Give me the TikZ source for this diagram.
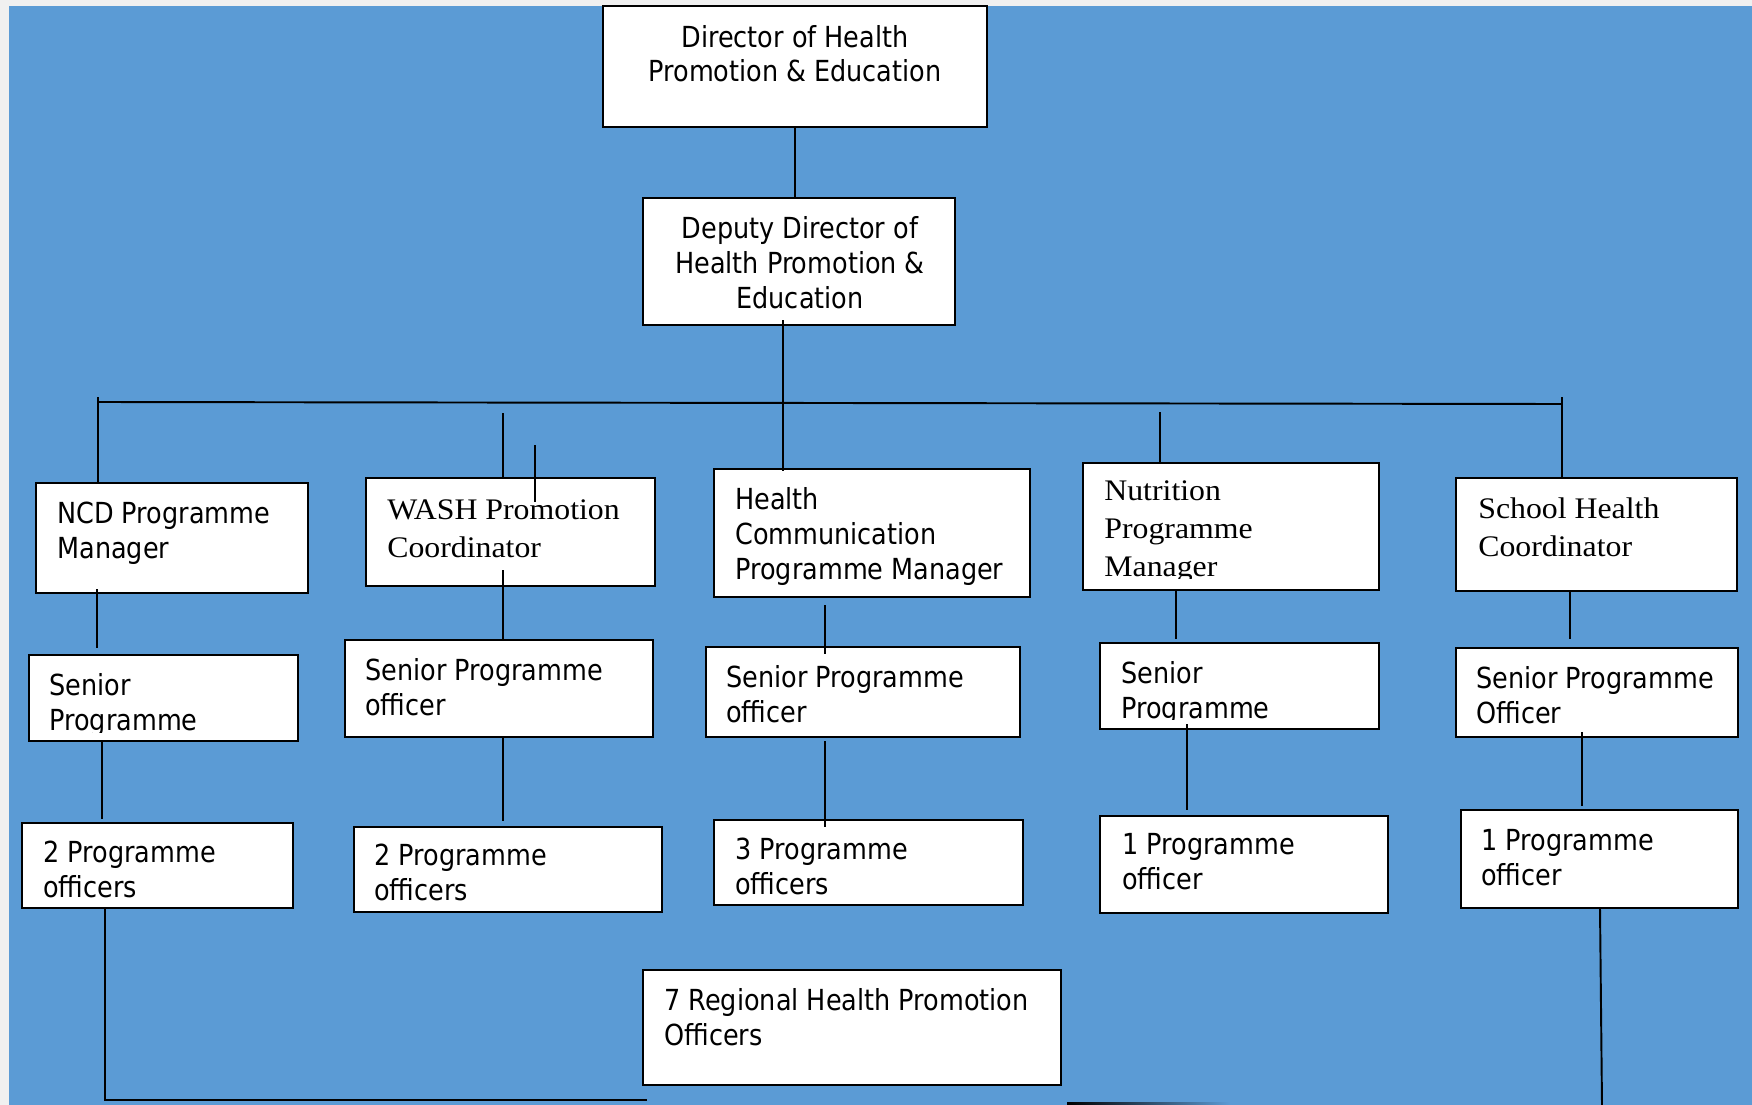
\documentclass[tikz,border=0pt]{standalone}
\usepackage{fontspec}
\setmainfont{DejaVu Sans}[FakeStretch=0.88]
\newfontfamily\serifrm{Liberation Serif}[FakeStretch=1.065]
\usepackage{tikz}
\usetikzlibrary{fit}
\definecolor{chartblue}{HTML}{5B9BD5}
\definecolor{pagegray}{HTML}{F0F0F0}

\begin{document}
\begin{tikzpicture}[x=0.02cm, y=-0.02cm,
    post/.style={draw=black, line width=1.2pt, fill=white, inner sep=0pt},
    lbl/.style={inner sep=0pt, anchor=base west, align=left, font=\fontsize{16.5}{19.9}\selectfont},
    midlbl/.style={lbl, anchor=base, align=center},
    rmlbl/.style={lbl, font=\serifrm\fontsize{17}{21.6}\selectfont},
    link/.style={line width=1.1pt}]
  \useasboundingbox (0,0) rectangle (1752,1105);
  \fill[pagegray] (0,0) rectangle (1752,1105);
  \fill[chartblue] (9,6) rectangle (1752,1105);

  \node[post, fit={(603,6) (987,127)}] (dir) {};
  \node[post, fit={(643,198) (955,325)}] (dep) {};
  \node[post, fit={(36,483) (308,593)}] (ncd) {};
  \node[post, fit={(366,478) (655,586)}] (wash) {};
  \node[post, fit={(714,469) (1030,597)}] (hc) {};
  \node[post, fit={(1083,463) (1379,590)}] (nut) {};
  \node[post, fit={(1456,478) (1737,591)}] (sch) {};
  \node[post, fit={(29,655) (298,741)}] (ncds) {};
  \node[post, fit={(345,640) (653,737)}] (washs) {};
  \node[post, fit={(706,647) (1020,737)}] (hcs) {};
  \node[post, fit={(1100,643) (1379,729)}] (nuts) {};
  \node[post, fit={(1456,648) (1738,737)}] (schs) {};
  \node[post, fit={(22,823) (293,908)}] (ncd2) {};
  \node[post, fit={(354,827) (662,912)}] (wash2) {};
  \node[post, fit={(714,820) (1023,905)}] (hc3) {};
  \node[post, fit={(1100,816) (1388,913)}] (nut1) {};
  \node[post, fit={(1461,810) (1738,908)}] (sch1) {};
  \node[post, fit={(643,970) (1061,1085)}] (reg) {};

  \node[midlbl] (dir-t) at (795,82) {Director of Health\\Promotion \& Education};
  \node[midlbl] (dep-t) at (800,308) {Deputy Director of\\Health Promotion \&\\Education};
  \node[lbl] (ncd-t) at (57,558) {NCD Programme\\Manager};
  \node[rmlbl] (wash-t) at (387,557) {WASH Promotion\\Coordinator};
  \node[lbl] (hc-t) at (735,579) {Health\\Communication\\Programme Manager};
  \begin{scope}
    \clip (1083,463) rectangle (1379,578);
    \node[rmlbl] (nut-t) at (1104,576) {Nutrition\\Programme\\Manager};
  \end{scope}
  \node[rmlbl] (sch-t) at (1478,556) {School Health\\Coordinator};
  \begin{scope}
    \clip (29,655) rectangle (298,732);
    \node[lbl] (ncds-t) at (49,730) {Senior\\Programme};
  \end{scope}
  \node[lbl] (washs-t) at (365,715) {Senior Programme\\officer};
  \node[lbl] (hcs-t) at (726,722) {Senior Programme\\officer};
  \begin{scope}
    \clip (1100,643) rectangle (1379,719);
    \node[lbl] (nuts-t) at (1121,718) {Senior\\Programme};
  \end{scope}
  \node[lbl] (schs-t) at (1476,723) {Senior Programme\\Officer};
  \node[lbl] (ncd2-t) at (43,897) {2 Programme\\officers};
  \begin{scope}
    \clip (354,827) rectangle (662,902);
    \node[lbl] (wash2-t) at (374,900) {2 Programme\\officers};
  \end{scope}
  \begin{scope}
    \clip (714,820) rectangle (1023,895);
    \node[lbl] (hc3-t) at (735,894) {3 Programme\\officers};
  \end{scope}
  \node[lbl] (nut1-t) at (1122,889) {1 Programme\\officer};
  \node[lbl] (sch1-t) at (1481,885) {1 Programme\\officer};
  \node[lbl] (reg-t) at (664,1045) {7 Regional Health Promotion\\Officers};

  \draw[link] (dir.south) -- (dir.south |- dep.north);
  \coordinate (dep-o) at (783,320);
  \draw[link] (dep-o) -- (dep-o |- hc.north) -- ++(0,3);
  \coordinate (bus-w) at (98,402);
  \coordinate (bus-e) at (1562,404);
  \draw[link] (bus-w) -- (bus-e);
  \draw[link] (bus-w) ++(0,-5) -- (bus-w |- ncd.north);
  \draw[link] (bus-e) ++(0,-7) -- (bus-e |- sch.north);
  \coordinate (wash-a) at (503,413);
  \draw[link] (wash-a) -- (wash-a |- wash.north);
  \coordinate (wash-b) at (535,445);
  \draw[link] (wash-b) -- ++(0,57);
  \coordinate (nut-a) at (1160,412);
  \draw[link] (nut-a) -- (nut-a |- nut.north);

  \coordinate (ncd-o) at (97,589);
  \draw[link, shorten >=0.12cm] (ncd-o) -- (ncd-o |- ncds.north);
  \coordinate (wash-o) at (503,570);
  \draw[link] (wash-o) -- (wash-o |- washs.north);
  \coordinate (hc-o) at (825,605);
  \draw[link, shorten >=-0.16cm] (hc-o) -- (hc-o |- hcs.north);
  \coordinate (nut-o) at (1176,590);
  \draw[link, shorten >=0.06cm] (nut-o) -- (nut-o |- nuts.north);
  \coordinate (sch-o) at (1570,591);
  \draw[link, shorten >=0.16cm] (sch-o) -- (sch-o |- schs.north);

  \coordinate (ncds-o) at (102,741);
  \draw[link, shorten >=0.06cm] (ncds-o) -- (ncds-o |- ncd2.north);
  \coordinate (washs-o) at (503,737);
  \draw[link, shorten >=0.1cm] (washs-o) -- (washs-o |- wash2.north);
  \coordinate (hcs-o) at (825,741);
  \draw[link, shorten >=-0.16cm] (hcs-o) -- (hcs-o |- hc3.north);
  \coordinate (nuts-o) at (1187,724);
  \draw[link, shorten >=0.1cm] (nuts-o) -- (nuts-o |- nut1.north);
  \coordinate (schs-o) at (1582,732);
  \draw[link, shorten >=0.06cm] (schs-o) -- (schs-o |- sch1.north);

  \coordinate (ncd2-o) at (105,908);
  \coordinate (reg-w) at (647,1100);
  \draw[link] (ncd2-o) |- (reg-w);
  \coordinate (sch1-o) at (1600,908);
  \coordinate (sch1-e) at (1602,1105);
  \draw[link] (sch1-o) -- (sch1-e);
  \shade[left color=black, right color=chartblue] (1067,1102) rectangle (1230,1105);
\end{tikzpicture}
\end{document}
